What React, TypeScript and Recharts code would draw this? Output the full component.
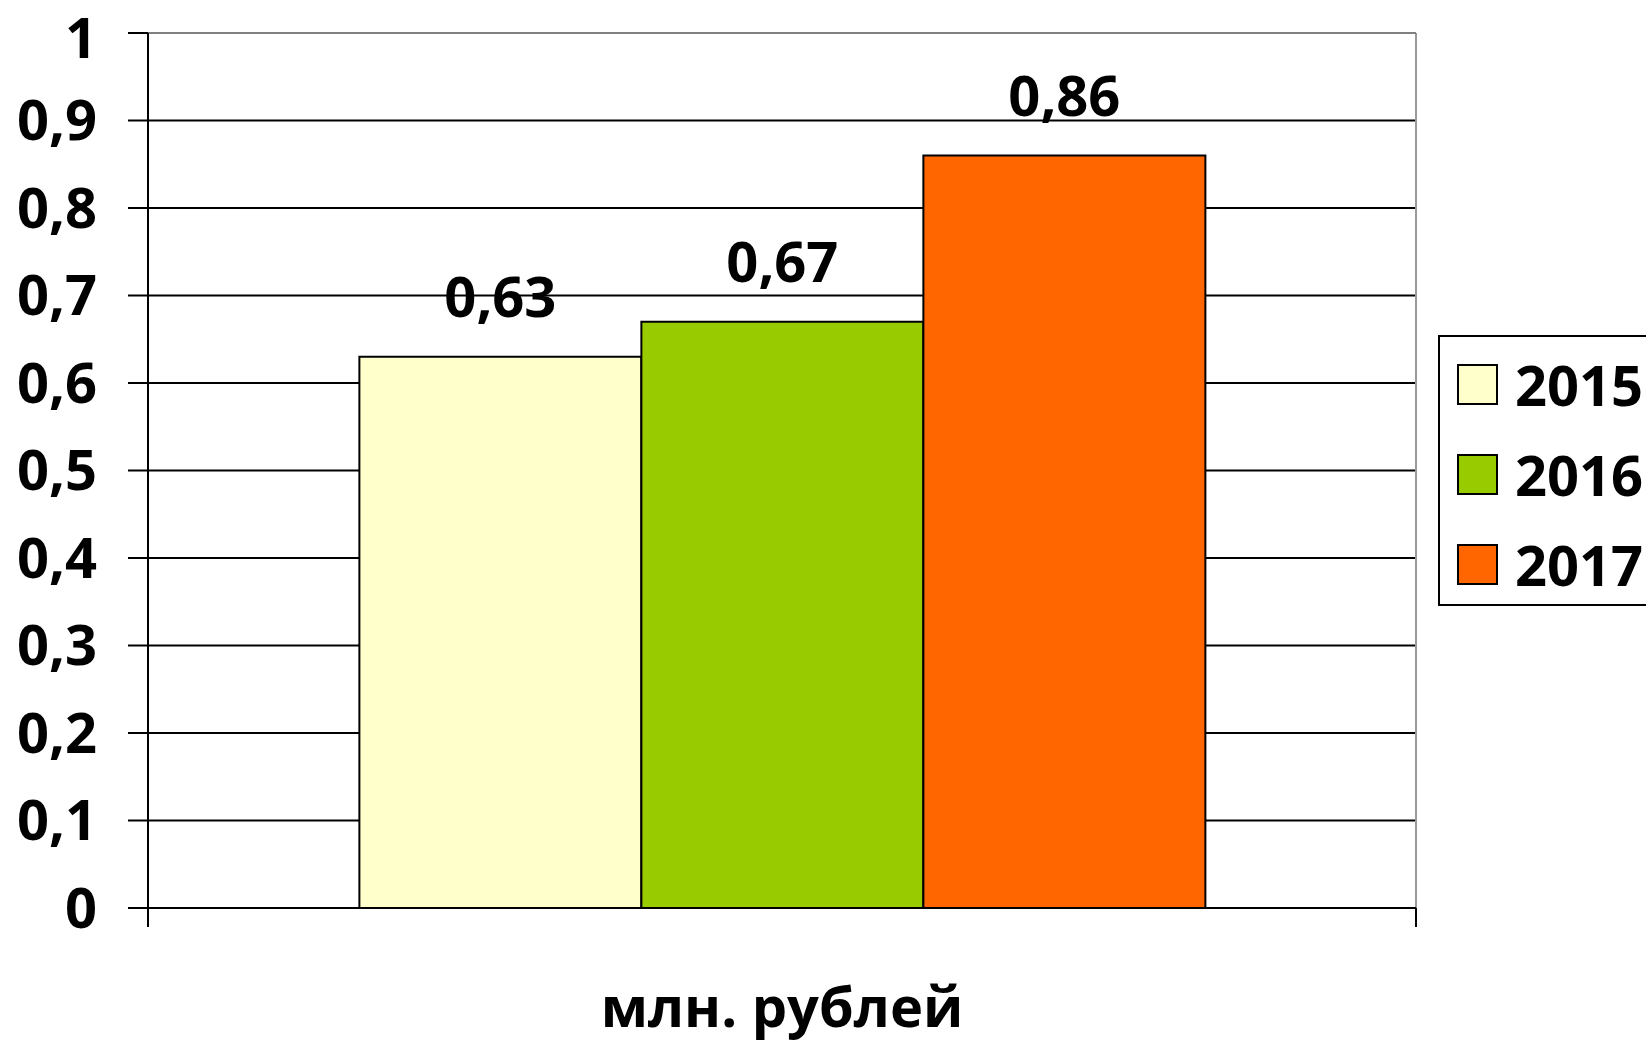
import {
  BarChart,
  Bar,
  XAxis,
  YAxis,
  CartesianGrid,
  LabelList,
  ReferenceLine,
} from 'recharts';

const categories = ['млн. рублей'];
const years = ['2015', '2016', '2017'];
const values2015 = [0.63];
const values2016 = [0.67];
const values2017 = [0.86];
const yTicks = [0, 0.1, 0.2, 0.3, 0.4, 0.5, 0.6, 0.7, 0.8, 0.9, 1];

const COLORS = ['#FFFFCC', '#99CC00', '#FF6600'];
const FONT = '"Open Sans", sans-serif';

const data = categories.map((name, i) => ({
  name,
  '2015': values2015[i],
  '2016': values2016[i],
  '2017': values2017[i],
}));

const fmt = (v: number) => String(v).replace('.', ',');

// category label plus Excel-style tick marks at the band edges
function CategoryTick({ x, y, payload }: any) {
  const half = payload.offset || 0;
  return (
    <g>
      <line x1={x - half} x2={x - half} y1={y} y2={y + 19} stroke="#000" strokeWidth={2} />
      <line x1={x + half} x2={x + half} y1={y} y2={y + 19} stroke="#000" strokeWidth={2} />
      <text
        x={x}
        y={y}
        dy={119}
        textAnchor="middle"
        fontFamily={FONT}
        fontWeight={700}
        fontSize={56}
        fill="#000"
      >
        {payload.value}
      </text>
    </g>
  );
}

export default function App() {
  return (
    <div
      style={{
        position: 'absolute',
        left: 0,
        top: 0,
        width: 1646,
        height: 1040,
        background: '#fff',
        overflow: 'hidden',
      }}
    >
      <BarChart
        width={1646}
        height={1040}
        data={data}
        margin={{ top: 33, right: 230, bottom: 0, left: 0 }}
        barGap={0}
        barCategoryGap="16.67%"
      >
        <CartesianGrid vertical={false} stroke="#000" strokeWidth={2} />
        <CartesianGrid
          horizontal={false}
          stroke="#999999"
          strokeWidth={2}
          verticalCoordinatesGenerator={({ offset }: any) => [offset.left + offset.width]}
        />
        <XAxis
          dataKey="name"
          height={132}
          tickLine={false}
          tickSize={0}
          tickMargin={0}
          axisLine={{ stroke: '#000', strokeWidth: 2 }}
          tick={<CategoryTick />}
        />
        <YAxis
          width={148}
          domain={[0, 1]}
          ticks={yTicks}
          tickFormatter={fmt}
          tickSize={20}
          tickMargin={31}
          axisLine={{ stroke: '#000', strokeWidth: 2 }}
          tickLine={{ stroke: '#000', strokeWidth: 2 }}
          tick={{ fontFamily: FONT, fontWeight: 700, fontSize: 56, fill: '#000' }}
        />
        <ReferenceLine y={1} stroke="#808080" strokeWidth={2} />
        {years.map((yr, i) => (
          <Bar
            key={yr}
            dataKey={yr}
            fill={COLORS[i]}
            stroke="#000"
            strokeWidth={2}
            isAnimationActive={false}
          >
            <LabelList
              dataKey={yr}
              position="top"
              offset={40}
              formatter={(v: any) => fmt(v)}
              style={{ fontFamily: FONT, fontWeight: 700, fontSize: 56, fill: '#000' }}
            />
          </Bar>
        ))}
      </BarChart>
      <div
        style={{
          position: 'absolute',
          left: 1438,
          top: 335,
          width: 240,
          height: 271,
          boxSizing: 'border-box',
          border: '2px solid #000',
          background: '#fff',
          fontFamily: FONT,
          fontWeight: 700,
          fontSize: 56,
        }}
      >
        {years.map((yr, i) => (
          <div
            key={yr}
            style={{
              position: 'absolute',
              left: 17,
              top: 26 + i * 90,
              height: 42,
              display: 'flex',
              alignItems: 'center',
            }}
          >
            <div
              style={{
                width: 41,
                height: 41,
                boxSizing: 'border-box',
                border: '2px solid #000',
                background: COLORS[i],
                marginRight: 17,
              }}
            />
            <span style={{ lineHeight: '42px', whiteSpace: 'nowrap' }}>{yr}</span>
          </div>
        ))}
      </div>
    </div>
  );
}
